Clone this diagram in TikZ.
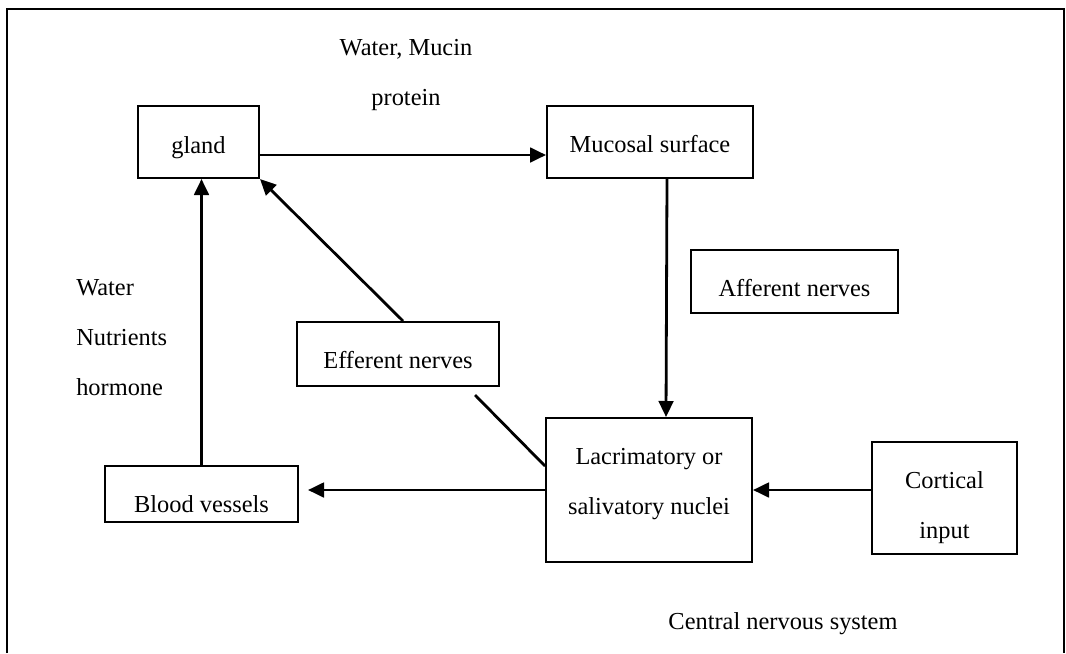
\documentclass[tikz,border=0pt]{standalone}
\usepackage{fontspec}
\setmainfont{Liberation Serif}
\usetikzlibrary{arrows.meta}

% text of a box: first baseline raised by #1 from the box centre
\newcommand{\celltext}[2]{\raisebox{#1}[0pt][0pt]{\begin{tabular}[t]{@{}c@{}}#2\end{tabular}}}

\tikzset{
    box/.style={draw, line width=1.5pt, inner sep=0pt},
    arr/.style={line width=2.1pt, -{Triangle[length=12pt,width=11pt]}},
    lbl/.style={inner sep=0pt}
}

\begin{document}
\begin{tikzpicture}[x=0.75pt, y=-0.75pt, font=\fontsize{18.3}{38}\selectfont]
    \useasboundingbox (0,0) rectangle (1066,653);
    % Frame round the figure, open at the bottom
    \draw[line width=1.5pt] (7,653) -- (7,9) -- (1064,9) -- (1064,653);
    \foreach \name/\x/\y/\w/\h/\dy/\txt in {gland/198.5/142/121/72/-8.25/gland,
            mucosal/650/142/206/72/-7.5/Mucosal surface,
            afferent/794.5/281.5/207/63/-11.5/Afferent nerves,
            efferent/398/354/202/64/-10.5/Efferent nerves,
            blood/201.5/494/193/56/-13.5/Blood vessels,
            lacr/649/490/206/144/19.5/Lacrimatory or\\salivatory nuclei,
            cortical/944.5/498/145/112/7.5/Cortical\\input} {
        % One box with its text
        \node[box, minimum width=\w*0.75pt, minimum height=\h*0.75pt] (\name) at (\x,\y) {\celltext{\dy pt}{\txt}};
    }
    % Free labels, one line each
    \foreach \txt/\y [count=\i] in {{Water, Mucin}/55, protein/105}
        \node[lbl, anchor=base] (secretion\i) at (406,\y) {\txt};
    \foreach \txt/\y [count=\i] in {Water/295, Nutrients/345, hormone/395}
        \node[lbl, anchor=base west] (supply\i) at (76,\y) {\txt};
    \node[lbl, anchor=base] (cns) at (783,629) {Central nervous system};

    % Connectors
    \draw[arr] ([yshift=-9.75pt]gland.east) -- ([yshift=-9.75pt]mucosal.west);
    \draw[arr] ([xshift=12.75pt]mucosal.south) -- ([xshift=12.75pt]lacr.north);
    \draw[arr] (lacr.east -| cortical.west) -- (lacr.east);
    \draw[arr, shorten >=6.75pt] (lacr.west) -- (lacr.west -| blood.east);
    \draw[arr] (blood.north) -- (blood.north |- gland.south);
    \draw[arr] ([xshift=3.75pt]efferent.north) -- (gland.south east);
    \coordinate (efftail) at (475,395);
    \draw[line width=2.1pt] ([yshift=18pt]lacr.west) -- (efftail);
\end{tikzpicture}
\end{document}
